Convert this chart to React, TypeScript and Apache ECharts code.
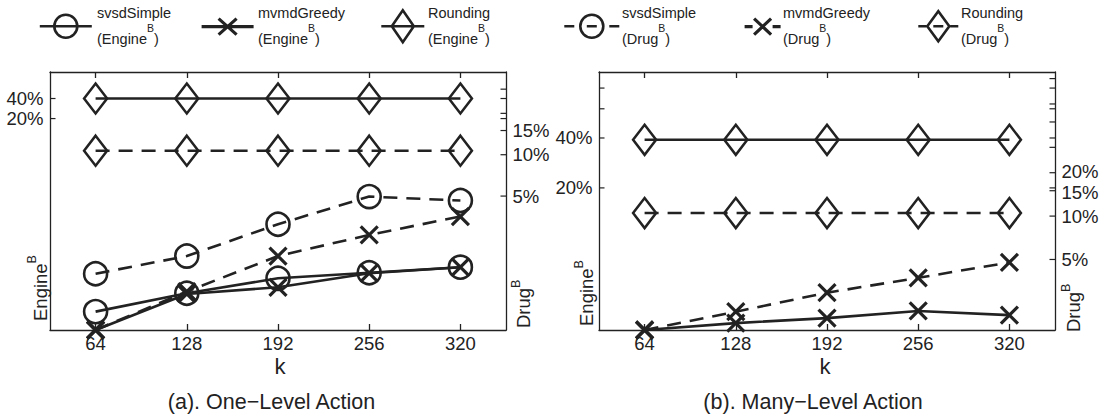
import React, { useEffect, useRef } from 'react';
import * as echarts from 'echarts';

// ---------- data (percent values) ----------
const kLabels = ['64', '128', '192', '256', '320'];

// (a) One-Level Action
const svsdEngineA = [0.0253, 0.0477, 0.080, 0.097, 0.1175];
const mvmdEngineA = [0.0134, 0.0466, 0.0587, 0.0954, 0.1175];
const roundEngineA = [40, 40, 40, 40, 40];
const svsdDrugA = [1.36, 1.83, 3.12, 4.96, 4.64];
const mvmdDrugA = [0.53, 1.01, 1.83, 2.61, 3.55];
const roundDrugA = [10.7, 10.7, 10.7, 10.7, 10.7];

// (b) Many-Level Action
const mvmdEngineB = [2.78, 3.06, 3.28, 3.62, 3.42];
const roundEngineB = [39, 39, 39, 39, 39];
const mvmdDrugB = [1.62, 2.17, 2.94, 3.73, 4.77];
const roundDrugB = [10.5, 10.5, 10.5, 10.5, 10.5];

// axis ranges
const engineRangeA = [0.0134, 100];
const drugRangeA = [0.53, 40];
const engineRangeB = [2.78, 100];
const drugRangeB = [1.62, 100];

// tick values (labelled and unlabelled)
const engineTicksA = [20, 40];
const drugTicksA = [5, 10, 15];
const drugMinorA = [20, 30];
const engineTicksB = [20, 40];
const engineMinorB = [60, 80];
const drugTicksB = [5, 10, 15, 20];
const drugMinorB = [30, 45, 60, 90];

const INK = '#222';
const FONT = '"Liberation Sans", Arial, Helvetica, sans-serif';

export default function App() {
  const ref = useRef<HTMLDivElement>(null);

  useEffect(() => {
    if (!ref.current) return;
    const chart = echarts.init(ref.current, null, { renderer: 'svg' });

    const G = [
      { left: 50, top: 72, width: 456, height: 258 },
      { left: 599, top: 72, width: 456, height: 258 },
    ];

    const xAxisBase = (gridIndex: number, position: string, showLabel: boolean) => ({
      type: 'category',
      gridIndex,
      position,
      data: kLabels,
      boundaryGap: true,
      axisLine: { show: true, onZero: false, lineStyle: { color: INK, width: 1.3 } },
      axisTick: {
        show: true, inside: true, length: 6, alignWithLabel: true, interval: 0,
        lineStyle: { color: INK, width: 1.3 },
      },
      axisLabel: { show: showLabel, interval: 0, margin: 4, color: INK, fontSize: 18.5, fontFamily: FONT },
      splitLine: { show: false },
    });

    const yAxisBase = (gridIndex: number, position: string, range: number[]) => ({
      type: 'log',
      logBase: 10,
      gridIndex,
      position,
      min: range[0],
      max: range[1],
      axisLine: { show: true, onZero: false, lineStyle: { color: INK, width: 1.3 } },
      axisTick: { show: false },
      axisLabel: { show: false },
      splitLine: { show: false },
      minorTick: { show: false },
      minorSplitLine: { show: false },
    });

    const SYM: Record<string, any> = {
      circle: { symbol: 'circle', symbolSize: 23 },
      cross: { symbol: 'path://M0,0L10,10M10,0L0,10', symbolSize: 17 },
      diamond: { symbol: 'diamond', symbolSize: [23, 30] },
    };

    const mk = (name: string, data: number[], xAxisIndex: number, yAxisIndex: number, dashed: boolean, marker: string) => ({
      type: 'line',
      name,
      data,
      xAxisIndex,
      yAxisIndex,
      ...SYM[marker],
      showSymbol: true,
      showAllSymbol: true,
      clip: false,
      lineStyle: { color: INK, width: 2.6, type: dashed ? [14, 9] : 'solid' },
      itemStyle: { color: 'transparent', borderColor: INK, borderWidth: marker === 'cross' ? 3.2 : 2.6 },
      emphasis: { disabled: true },
    });

    const N = {
      sE: 'svsdSimple (EngineB)', mE: 'mvmdGreedy (EngineB)', rE: 'Rounding (EngineB)',
      sD: 'svsdSimple (DrugB)', mD: 'mvmdGreedy (DrugB)', rD: 'Rounding (DrugB)',
    };

    const legendDefs = [
      { name: N.sE, title: 'svsdSimple', unit: 'Engine', left: 38.5, tx: 97, w: 52, h: 23, bw: 2.6,
        icon: 'M0,11.5L52,11.5M14.5,11.5A11.5,11.5,0,1,1,37.5,11.5A11.5,11.5,0,1,1,14.5,11.5Z' },
      { name: N.mE, title: 'mvmdGreedy', unit: 'Engine', left: 200, tx: 258, w: 52, h: 16, bw: 3.2,
        icon: 'M0,8L52,8M17,0L35,16M35,0L17,16' },
      { name: N.rE, title: 'Rounding', unit: 'Engine', left: 380, tx: 428, w: 43, h: 32, bw: 2.6,
        icon: 'M0,16L43,16M10.5,16L21.5,0L32.5,16L21.5,32Z' },
      { name: N.sD, title: 'svsdSimple', unit: 'Drug', left: 563, tx: 622, w: 55, h: 23, bw: 2.6,
        icon: 'M0,11.5L10,11.5M22.5,11.5L32.5,11.5M45,11.5L55,11.5M16,11.5A11.5,11.5,0,1,1,39,11.5A11.5,11.5,0,1,1,16,11.5Z' },
      { name: N.mD, title: 'mvmdGreedy', unit: 'Drug', left: 743, tx: 783, w: 36, h: 16, bw: 3.2,
        icon: 'M0,8L8,8M28,8L36,8M9.5,0L26.5,16M26.5,0L9.5,16' },
      { name: N.rD, title: 'Rounding', unit: 'Drug', left: 917, tx: 961, w: 40, h: 30, bw: 2.6,
        icon: 'M0,15L8,15M15,15L25,15M32,15L40,15M9,15L20,0L31,15L20,30Z' },
    ];
    const LEGEND_CY = 25;

    const option: any = {
      animation: false,
      backgroundColor: '#fff',
      grid: G,
      xAxis: [
        xAxisBase(0, 'bottom', true),
        xAxisBase(0, 'top', false),
        xAxisBase(1, 'bottom', true),
        xAxisBase(1, 'top', false),
      ],
      yAxis: [
        yAxisBase(0, 'left', engineRangeA),
        yAxisBase(0, 'right', drugRangeA),
        yAxisBase(1, 'left', engineRangeB),
        yAxisBase(1, 'right', drugRangeB),
      ],
      legend: legendDefs.map((d) => ({
        data: [{
          name: d.name,
          icon: 'path://' + d.icon,
          itemStyle: { color: 'transparent', borderColor: INK, borderWidth: d.bw },
        }],
        left: d.left,
        top: LEGEND_CY - d.h / 2,
        padding: 0,
        itemWidth: d.w,
        itemHeight: d.h,
        symbolKeepAspect: true,
        selectedMode: false,
        formatter: () => '',
        textStyle: { fontSize: 8, color: INK },
      })),
      series: [
        mk(N.sE, svsdEngineA, 0, 0, false, 'circle'),
        mk(N.mE, mvmdEngineA, 0, 0, false, 'cross'),
        mk(N.rE, roundEngineA, 0, 0, false, 'diamond'),
        mk(N.sD, svsdDrugA, 0, 1, true, 'circle'),
        mk(N.mD, mvmdDrugA, 0, 1, true, 'cross'),
        mk(N.rD, roundDrugA, 0, 1, true, 'diamond'),
        mk(N.mE, mvmdEngineB, 2, 2, false, 'cross'),
        mk(N.rE, roundEngineB, 2, 2, false, 'diamond'),
        mk(N.mD, mvmdDrugB, 2, 3, true, 'cross'),
        mk(N.rD, roundDrugB, 2, 3, true, 'diamond'),
      ],
    };

    chart.setOption(option);

    // ---------- custom log-axis ticks / labels, via the axes' own scales ----------
    const g: any[] = [];
    const tick = (yAxisIndex: number, axisX: number, dir: number, values: number[], label: boolean,
      nudge: Record<number, number> = {}) => {
      values.forEach((v) => {
        const y = chart.convertToPixel({ yAxisIndex } as any, v) as unknown as number;
        g.push({
          type: 'line', silent: true,
          shape: { x1: axisX, y1: y, x2: axisX + dir * 5.5, y2: y },
          style: { stroke: INK, lineWidth: 1.2 },
        });
        if (label) {
          const al = dir > 0 ? 'right' : 'left';
          g.push({
            type: 'text', silent: true,
            x: axisX - dir * 6.5, y: y + (nudge[v] || 0),
            style: {
              text: v + '%', fill: INK, fontSize: 18.5, fontFamily: FONT,
              align: al, verticalAlign: 'middle', textAlign: al, textVerticalAlign: 'middle',
            },
          });
        }
      });
    };
    const aL = G[0].left, aR = G[0].left + G[0].width;
    const bL = G[1].left, bR = G[1].left + G[1].width;
    tick(0, aL, 1, engineTicksA, true);
    tick(0, aR, -1, engineTicksA, false);
    tick(1, aR, -1, drugTicksA, true);
    tick(1, aR, -1, drugMinorA, false);
    tick(2, bL, 1, engineTicksB, true);
    tick(2, bL, 1, engineMinorB, false);
    tick(2, bR, -1, engineTicksB.concat(engineMinorB), false);
    tick(3, bR, -1, drugTicksB, true, { 20: -1.5, 15: 1.5 });
    tick(3, bR, -1, drugMinorB, false);

    // rotated axis names with superscript
    const vname = (x: number, y: number, main: string) => ({
      type: 'text', silent: true, x, y, rotation: Math.PI / 2,
      style: {
        text: `{a|${main}}{s|B}`,
        align: 'left', verticalAlign: 'middle', textAlign: 'left', textVerticalAlign: 'middle',
        rich: {
          a: { fontSize: 18.5, lineHeight: 29, fontFamily: FONT, fill: INK },
          s: { fontSize: 12.5, lineHeight: 10, verticalAlign: 'top', fontFamily: FONT, fill: INK },
        },
      },
    });
    g.push(vname(40, 321, 'Engine'));
    g.push(vname(523.5, 328, 'Drug'));
    g.push(vname(586.5, 326, 'Engine'));
    g.push(vname(1073.5, 332, 'Drug'));

    // legend labels (two lines, superscript B)
    legendDefs.forEach((d) => {
      g.push({
        type: 'text', silent: true, x: d.tx, y: 13,
        style: {
          text: d.title, fill: INK, fontSize: 14.5, fontFamily: FONT,
          align: 'left', verticalAlign: 'middle', textAlign: 'left', textVerticalAlign: 'middle',
        },
      });
      g.push({
        type: 'text', silent: true, x: d.tx, y: 38.5,
        style: {
          text: `{a|(${d.unit}}{s|B}{a|)}`,
          align: 'left', verticalAlign: 'middle', textAlign: 'left', textVerticalAlign: 'middle',
          rich: {
            a: { fontSize: 14.5, lineHeight: 32, fontFamily: FONT, fill: INK },
            s: { fontSize: 10.5, lineHeight: 8, verticalAlign: 'top', fontFamily: FONT, fill: INK },
          },
        },
      });
    });

    const centerText = (x: number, y: number, text: string, size: number, family: string) => ({
      type: 'text', silent: true, x, y,
      style: {
        text, fill: INK, fontSize: size, fontFamily: family,
        align: 'center', verticalAlign: 'middle', textAlign: 'center', textVerticalAlign: 'middle',
      },
    });
    const MONO = '"Liberation Mono", "Courier New", monospace';
    g.push(centerText((aL + aR) / 2 + 2, 368, 'k', 22, MONO));
    g.push(centerText((bL + bR) / 2 - 2, 368, 'k', 22, MONO));
    g.push(centerText(271.5, 401.5, '(a). One\u2212Level Action', 21.5, FONT));
    g.push(centerText(813, 401.5, '(b). Many\u2212Level Action', 21.5, FONT));

    chart.setOption({ graphic: g });

    return () => chart.dispose();
  }, []);

  return (
    <div
      ref={ref}
      style={{ position: 'absolute', left: 0, top: 0, width: 1104, height: 417, background: '#fff' }}
    />
  );
}
